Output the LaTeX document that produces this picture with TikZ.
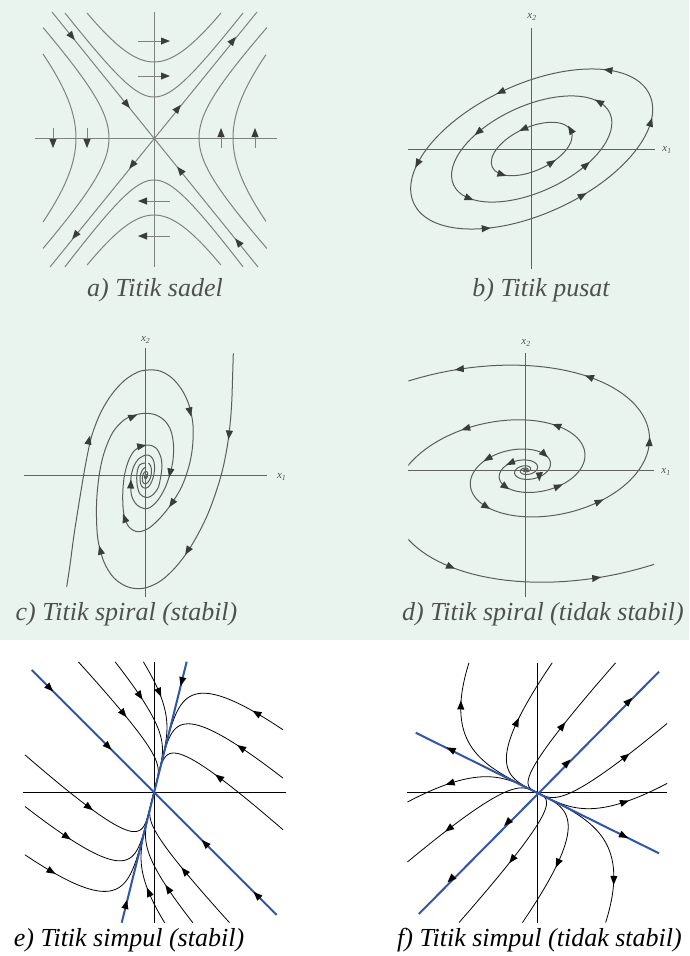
\documentclass[tikz,border=0pt]{standalone}
\usepackage{fontspec}
\setmainfont{Liberation Serif}
\definecolor{bg}{RGB}{234,244,238}
\definecolor{lna}{RGB}{128,130,128}
\definecolor{ln}{RGB}{90,94,90}
\definecolor{axc}{RGB}{95,98,95}
\definecolor{tipc}{RGB}{58,62,58}
\definecolor{capc}{RGB}{78,82,78}
\definecolor{bl}{RGB}{48,86,170}
\newcommand\tri[3]{\fill[tipstyle,shift={(#1,#2)},rotate=#3] (4.5,0)--(-4.5,3.6)--(-4.5,-3.6)--cycle;}
\newcommand\tipdir[4]{%
  \pgfmathsetmacro\tipang{atan2((#4)-(#2),(#3)-(#1))}%
  \pgfmathsetmacro\tipx{#3}%
  \pgfmathsetmacro\tipy{#4}%
  \fill[tipstyle,shift={(\tipx,\tipy)},rotate=\tipang] (4.5,0)--(-4.5,3.6)--(-4.5,-3.6)--cycle;}
\newcommand\btip[3]{\tipdir{#1*cos(#3-2)}{#2*sin(#3-2)}{#1*cos(#3)}{#2*sin(#3)}}
\newcommand\dtip[2]{\tipdir{(#1)*24*exp(0.256*(#2-0.03))*cos(deg(#2-0.03))}{(#1)*14*exp(0.256*(#2-0.03))*sin(deg(#2-0.03))}{(#1)*24*exp(0.256*(#2))*cos(deg(#2))}{(#1)*14*exp(0.256*(#2))*sin(deg(#2))}}
\newcommand\dtipang[3]{\pgfmathsetmacro\tipx{(#1)*24*exp(0.256*(#2))*cos(deg(#2))}\pgfmathsetmacro\tipy{(#1)*14*exp(0.256*(#2))*sin(deg(#2))}\tri{\tipx}{\tipy}{#3}}
\newcommand\etip[3]{\tipdir{(#1)*(#3+0.01)^6+0.25*(#2)*(#3+0.01)}{-(#1)*(#3+0.01)^6+(#2)*(#3+0.01)}{(#1)*(#3)^6+0.25*(#2)*(#3)}{-(#1)*(#3)^6+(#2)*(#3)}}
\newcommand\ftip[3]{\tipdir{(#1)*(#3-0.01)^3.5+(#2)*(#3-0.01)}{(#1)*(#3-0.01)^3.5-0.5*(#2)*(#3-0.01)}{(#1)*(#3)^3.5+(#2)*(#3)}{(#1)*(#3)^3.5-0.5*(#2)*(#3)}}
\begin{document}
\begin{tikzpicture}[x=1pt,y=-1pt,
  cva/.style={draw=lna,line width=1pt},
  cv/.style={draw=ln,line width=1pt},
  axa/.style={draw=lna,line width=1pt},
  ax/.style={draw=axc,line width=1pt},
  cve/.style={draw=black,line width=0.8pt},
  axe/.style={draw=black,line width=0.9pt},
  bline/.style={draw=bl,line width=2pt},
  tipstyle/.style={fill=tipc},
  capt/.style={font=\fontsize{26}{30}\selectfont\itshape,text=capc,inner sep=0pt,anchor=base},
  lbl/.style={font=\fontsize{11}{11}\selectfont\itshape,text=capc,inner sep=0pt}]
\useasboundingbox (0,0) rectangle (689,956);
\fill[white] (0,0) rectangle (689,956);
\fill[bg] (0,0) rectangle (689,640);

% ---------------- a) saddle
\begin{scope}[shift={(154,138)},x=1pt,y=1pt]
\draw[axa] (-119,0)--(123,0);
\draw[axa] (0,126)--(0,-129);
\draw[cva] (-102,126)--(104,-129);
\draw[cva] (-104,-129)--(103,126);
\draw[cva] plot[domain=-1.082:1.082,samples=41,variable=\t] ({51.3*sinh(\t)},{76*cosh(\t)});
\draw[cva] plot[domain=-1.780:1.780,samples=51,variable=\t] ({30.9*sinh(\t)},{41*cosh(\t)});
\draw[cva] plot[domain=-1.787:1.787,samples=51,variable=\t] ({30.7*sinh(\t)},{-42*cosh(\t)});
\draw[cva] plot[domain=-1.085:1.085,samples=41,variable=\t] ({51*sinh(\t)},{-77*cosh(\t)});
\draw[cva] plot[domain=-0.890:0.890,samples=41,variable=\t] ({-78*cosh(\t)},{83*sinh(\t)});
\draw[cva] plot[domain=-1.552:1.552,samples=51,variable=\t] ({-45*cosh(\t)},{49*sinh(\t)});
\draw[cva] plot[domain=-1.571:1.571,samples=51,variable=\t] ({45*cosh(\t)},{48*sinh(\t)});
\draw[cva] plot[domain=-0.885:0.885,samples=41,variable=\t] ({79*cosh(\t)},{83*sinh(\t)});
\draw[cva] (-16,97)--(12,97); \tri{11.5}{97}{0}
\draw[cva] (-16,62)--(12,62); \tri{11.5}{62}{0}
\draw[cva] (16,-63)--(-12,-63); \tri{-11.5}{-63}{180}
\draw[cva] (16,-98)--(-12,-98); \tri{-11.5}{-98}{180}
\draw[cva] (-101,10)--(-101,-6); \tri{-101}{-5.5}{-90}
\draw[cva] (-67,10)--(-67,-6); \tri{-67}{-5.5}{-90}
\draw[cva] (67,-10)--(67,6); \tri{67}{5.5}{90}
\draw[cva] (101,-10)--(101,6); \tri{101}{5.5}{90}
\tri{-82}{101.5}{-51} \tri{-27}{33.4}{-51} \tri{26}{-32.2}{129} \tri{84}{-104}{129}
\tri{24}{29.7}{51} \tri{79}{97.6}{51} \tri{-22}{-27.2}{-129} \tri{-79}{-97.6}{-129}
\end{scope}
\node (capa) [capt] at (155,296) {a) Titik sadel};

% ---------------- b) centre
\draw[ax] (408.3,149)--(655,149);
\draw[ax] (531.7,28.3)--(531.7,269.3);
\node (lx1b) [lbl] at (667,150) {x\textsubscript{1}};
\node (lx2b) [lbl] at (532,17) {x\textsubscript{2}};
\begin{scope}[shift={(531.7,149)},x=1pt,y=1pt,rotate=24.7]
\draw[cv] (0,0) ellipse [x radius=129.8,y radius=64.8];
\draw[cv] (0,0) ellipse [x radius=86,y radius=43];
\draw[cv] (0,0) ellipse [x radius=43.4,y radius=21.6];
\foreach \p in {38,92,148,235,282,337} {\btip{129.8}{64.8}{\p}}
\foreach \p in {20,119,206,300} {\btip{86}{43}{\p}}
\foreach \p in {4,89,210,287} {\btip{43.4}{21.6}{\p}}
\end{scope}
\node (capb) [capt] at (541,296) {b) Titik pusat};

% ---------------- c) stable spiral
\draw[ax] (24,475)--(266.7,475);
\draw[ax] (145.7,348.3)--(145.7,596.7);
\node (lx1c) [lbl] at (281.7,476.7) {x\textsubscript{1}};
\node (lx2c) [lbl] at (145.7,340) {x\textsubscript{2}};
\draw[cv] plot[smooth,tension=0.55] coordinates {(66.7,586.7) (70,565) (74,535) (80,497) (86,462) (92,435) (101,412) (112,394) (125,380) (138,372) (148,370) (160,371) (172,378) (182,390) (189,405) (193,425) (192.5,447) (189,466) (182,486) (172,503) (161,517) (149,528) (138,531.7) (129,527) (124,515) (122.7,497) (124,478) (128,462) (134,451) (141.7,446) (149,445) (156,448) (160.5,456) (162,466) (160.5,478) (158,488) (152,495.5) (146,497.5) (140,494) (137.5,487) (136.7,478) (137.5,470) (140,464.5) (145,463)};
\draw[cv] plot[smooth,tension=0.55] coordinates {(233.3,353.3) (232.5,380) (231.7,403) (230,425) (227,448) (222,472) (215,495) (207,516) (197,536) (186,554) (173,570) (159,582) (143.3,588.3) (128,587) (114,578) (104,562) (98,540) (96.5,517) (97,495) (100,470) (105,450) (113,432) (124,420) (135,415) (145.7,413.3) (156,415) (165,421) (171,431) (173.5,445) (173,460) (170,474) (165,488) (158,500) (150,507.5) (144,508.5) (137,505) (132,497) (130.7,487) (131,477) (133.5,467) (138,459.5) (145.7,455) (151,456.5) (154,462) (154.5,470) (153,478) (150,485) (145.7,488.3) (141.5,486) (140,480) (140.7,474) (143,469) (146,467)};
\begin{scope}[shift={(145.7,476)},x=1pt,y=1pt,rotate=-12]
\draw[cv] plot[domain=1.5708:-15,samples=200,variable=\t] ({5*exp(0.17*\t)*cos(deg(\t))},{10*exp(0.17*\t)*sin(deg(\t))});
\end{scope}
\tri{89}{440}{77} \tri{190}{412}{-77} \tri{171.7}{503.5}{-124} \tri{124.5}{518}{110} \tri{141.7}{446}{10}
\tri{229}{435}{-95} \tri{187.5}{551}{-121} \tri{100.3}{550}{105} \tri{133}{416.5}{22} \tri{170}{473}{-102} \tri{130.8}{484}{88}
\node (capc) [capt] at (126.5,620) {c) Titik spiral (stabil)};

% ---------------- d) unstable spiral
\draw[ax] (408,470)--(654,470);
\draw[ax] (525.7,353)--(525.7,597);
\node (lx1d) [lbl] at (666,472) {x\textsubscript{1}};
\node (lx2d) [lbl] at (526,343) {x\textsubscript{2}};
\begin{scope}[shift={(525.7,470)},x=1pt,y=1pt]
\clip (-117.4,-126) rectangle (128.3,126);
\begin{scope}[cm={1,0.1,0,1,(0,0)}]
\draw[cv] plot[domain=-14:8.9,samples=460,variable=\t] ({24*exp(0.256*\t)*cos(deg(\t))},{14*exp(0.256*\t)*sin(deg(\t))});
\draw[cv] plot[domain=-14:9.4,samples=470,variable=\t] ({-25.68*exp(0.256*\t)*cos(deg(\t))},{-14.98*exp(0.256*\t)*sin(deg(\t))});
\foreach \q in {8.2,7.45,6.5,5.55,4.1,2.55} {\dtip{1}{\q}}
\foreach \q in {5.35,4.3,2.35,0.9,-0.75,7.4,8.2} {\dtip{-1.07}{\q}}
\dtipang{1}{0.9}{-45}
\dtipang{1}{-0.8}{-90}
\end{scope}
\end{scope}
\node (capd) [capt] at (543,620) {d) Titik spiral (tidak stabil)};

% ---------------- e) stable node
\begin{scope}[shift={(154,792.3)},x=1pt,y=1pt,tipstyle/.style={fill=black}]
\draw[axe] (-131.3,0)--(132,0);
\draw[axe] (0,130.6)--(0,-131);
\foreach \rr in {0,180} {
\begin{scope}[rotate=\rr]
\foreach \Uc/\Wc/\Tc in {-86.7/43.9/0.879,-57.3/73.3/0.9,-34.7/95.9/0.876,91/153.3/0.948,100.6/114.6/0.919,111/73.3/0.872} {
\draw[cve] plot[domain=0:1,samples=90,variable=\t] ({(\Uc)*\t*\t*\t*\t*\t*\t+0.25*(\Wc)*\t},{-(\Uc)*\t*\t*\t*\t*\t*\t+(\Wc)*\t});
\etip{\Uc}{\Wc}{\Tc}
}
\end{scope}}
\draw[bline] (-122.3,122.3)--(122.7,-122.7);
\draw[bline] (32.7,130.6)--(-32.3,-130.4);
\tri{-104}{104}{-45} \tri{-45.7}{45.7}{-45} \tri{51}{-51}{135} \tri{102.7}{-102.7}{135}
\tri{27.7}{110.6}{-104} \tri{-28}{-112}{76}
\end{scope}
\node (cape) [capt,text=black] at (129,946) {e) Titik simpul (stabil)};

% ---------------- f) unstable node
\begin{scope}[shift={(537.3,792.7)},x=1pt,y=1pt,tipstyle/.style={fill=black}]
\draw[axe] (-130,0)--(130,0);
\draw[axe] (0,130)--(0,-130.6);
\foreach \rr in {0,180} {
\begin{scope}[rotate=\rr]
\foreach \Uc/\Wc/\Tc in {63.9/-132.2/0.828,91.7/-76.7/0.791,112.8/-34.4/0.806,89.6/40.4/0.864,49.6/80.4/0.802} {
\draw[cve] plot[domain=0:1,samples=90,variable=\t] ({(\Uc)*\t*\t*\t*sqrt(\t)+(\Wc)*\t},{(\Uc)*\t*\t*\t*sqrt(\t)-0.5*(\Wc)*\t});
\ftip{\Uc}{\Wc}{\Tc}
}
\end{scope}}
\draw[bline] (-118.5,-121.3)--(121.7,121);
\draw[bline] (-121.6,60)--(121.7,-60.6);
\tri{91.7}{91.7}{45} \tri{30}{30}{45} \tri{-30}{-30}{-135} \tri{-86.6}{-86.6}{-135}
\tri{-86.6}{43.3}{153.4} \tri{86.7}{-43.3}{-26.6}
\end{scope}
\node (capf) [capt,text=black] at (539.5,946) {f) Titik simpul (tidak stabil)};
\end{tikzpicture}
\end{document}
